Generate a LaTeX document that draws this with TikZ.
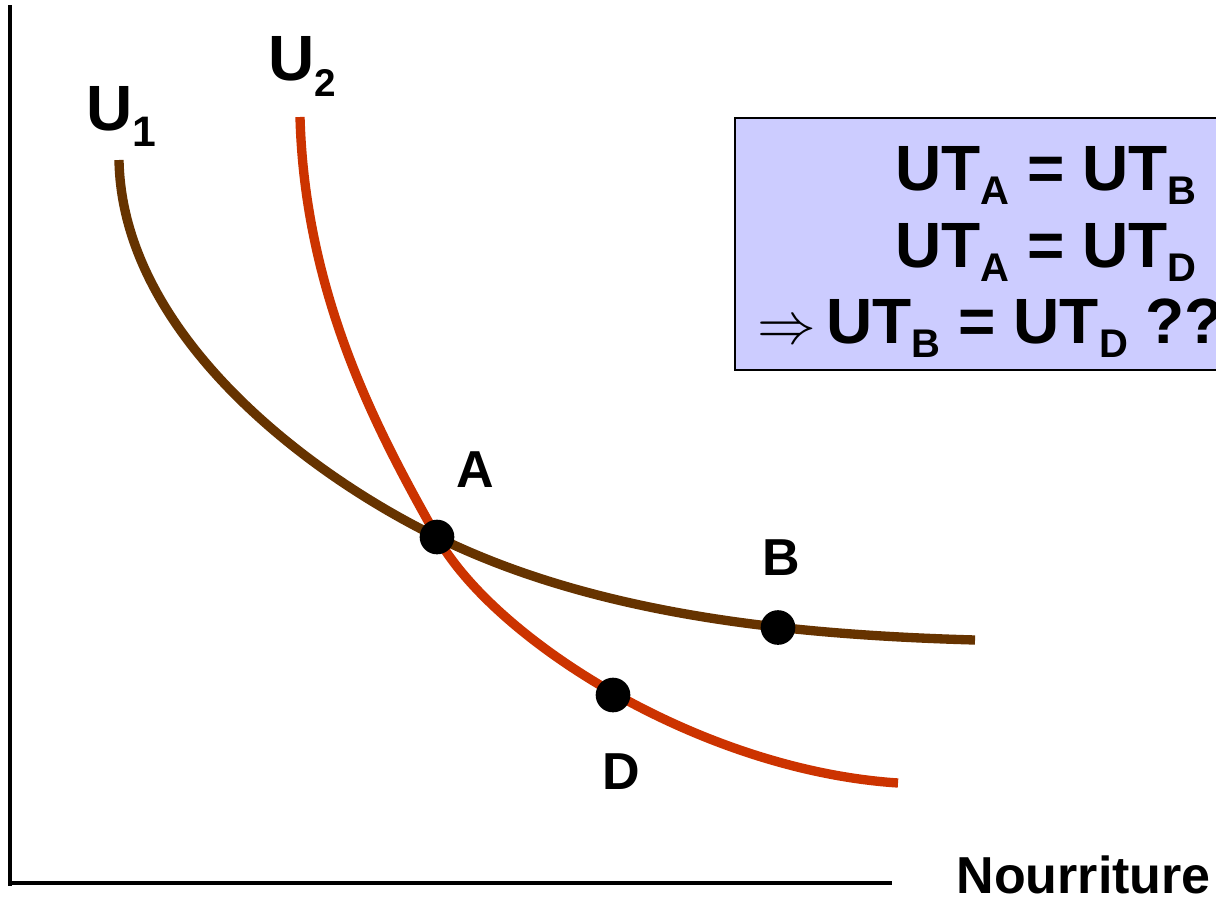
\documentclass[tikz,border=0pt]{standalone}
\usepackage{graphicx}
\usepackage{fontspec}
\setmainfont{Liberation Sans}
\definecolor{ubrown}{HTML}{663300}
\definecolor{ured}{HTML}{CC3300}
\definecolor{boxblue}{HTML}{CCCCFF}
\newcommand{\mysub}[3]{\raisebox{-#2}{\fontsize{#1}{#1}\selectfont #3}}
\newcommand{\bigimplies}{\scalebox{4.4}{\normalsize$\Rightarrow$}}
\begin{document}
\begin{tikzpicture}[x=0.75pt,y=-0.75pt,
  axisline/.style={line width=3.6pt,black},
  curveone/.style={line width=7pt,ubrown},
  curvetwo/.style={line width=7pt,ured},
  dotpt/.style={circle,fill=black,inner sep=0pt,minimum size=26pt},
  biglabel/.style={inner sep=0pt,font=\fontsize{48}{50}\selectfont\bfseries},
  ptlabel/.style={inner sep=0pt,anchor=base,font=\fontsize{39}{40}\selectfont\bfseries},
  eqline/.style={inner sep=0pt,anchor=base west,font=\fontsize{48}{50}\selectfont\bfseries}]
\useasboundingbox (0,0) rectangle (1216,900);
% axes
\coordinate (ytop) at (10,5);
\coordinate (ybot) at (10,885.5);
\coordinate (xstart) at (8,883);
\coordinate (xend) at (892,883);
\draw[axisline] (ytop) -- (ybot);
\draw[axisline] (xstart) -- (xend);
% points
\coordinate (pA) at (437,537);
\coordinate (u1s) at (119,160);
\coordinate (u1e) at (975,640);
\coordinate (u2s) at (300,117);
\coordinate (u2e) at (898,783);
% curves
\draw[curveone] (u1s) .. controls (122,330) and (300,470) .. (pA)
                      .. controls (600,617) and (800,635) .. (u1e);
\draw[curvetwo] (u2s) .. controls (305,300) and (382,439) .. (pA)
                      .. controls (495,640) and (700,770) .. (u2e);
% dots
\node[dotpt] (A) at (pA) {};
\node[dotpt] (B) at (778,627.5) {};
\node[dotpt] (D) at (613,695) {};
\node[ptlabel] (lA) at (475,487) {A};
\node[ptlabel] (lB) at (781,575) {B};
\node[ptlabel] (lD) at (621,789) {D};
% curve labels
\node[biglabel,anchor=base west] (u1) at (86,130) {U\mysub{32}{12pt}{1}};
\node[biglabel,anchor=base west] (u2) at (268,80) {U\mysub{29}{12pt}{2}};
% axis label
\node[ptlabel,anchor=base east] (xlab) at (1211,893) {Nourriture};
% box
\draw[line width=1.5pt,fill=boxblue] (735,118) rectangle (1230,370);
\node[eqline] (e1) at (895,190) {UT\mysub{30}{11pt}{A} = UT\mysub{30}{11pt}{B}};
\node[eqline] (e2) at (895,267) {UT\mysub{30}{11pt}{A} = UT\mysub{30}{11pt}{D}};
\node[eqline] (e3) at (757,343) {\bigimplies\,UT\mysub{30}{11pt}{B} = UT\mysub{30}{11pt}{D} ??};
\end{tikzpicture}
\end{document}
